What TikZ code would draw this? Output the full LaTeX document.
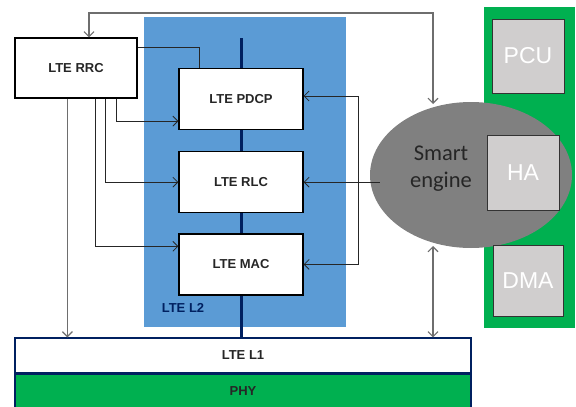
\documentclass[tikz,border=0pt]{standalone}
\usepackage{fontspec}
\setmainfont{Liberation Sans}
\newfontfamily\smartfont{Carlito}
\usepackage{xcolor}
\usetikzlibrary{shapes.geometric, arrows, arrows.meta, positioning, calc}
\definecolor{l2blue}{HTML}{5B9BD5}
\definecolor{phygreen}{HTML}{00B050}
\definecolor{navyline}{HTML}{002060}
\definecolor{smartgray}{HTML}{808080}
\definecolor{hwgray}{HTML}{D0CECE}
\definecolor{loopgray}{HTML}{6E6E6E}
\tikzstyle{layer} = [rectangle, minimum width=124pt, minimum height=61pt, draw=black, line width=1.2pt, fill=white, text=black!85, font=\fontsize{13}{15}\selectfont\bfseries]
\tikzstyle{hw} = [rectangle, minimum width=72pt, minimum height=74pt, draw=black!80, line width=0.8pt, fill=hwgray, text=white, font=\fontsize{23}{26}\selectfont]
\tikzstyle{bar} = [rectangle, minimum width=456pt, draw=navyline, line width=1.2pt, text=black!85, font=\fontsize{13}{15}\selectfont\bfseries]
\tikzstyle{arrow} = [line width=0.8pt, ->, >={Straight Barb[length=5pt,width=10pt]}]
\tikzstyle{ctrl} = [arrow, draw=black!85]
\tikzstyle{feed} = [arrow, draw=loopgray, line width=1.1pt]

\begin{document}
\begin{tikzpicture}[x=1pt, y=-1pt]
\useasboundingbox (0,0) rectangle (576,407);

% LTE L2 area
\fill[l2blue] (144,17) rectangle (346,327);
\node[text=navyline, font=\fontsize{13}{15}\selectfont\bfseries] (l2label) at (183,308) {LTE L2};

% Hardware panel
\fill[phygreen] (484,7) rectangle (575,328);

% L1 and PHY
\node[bar, fill=white, minimum height=35pt] (l1) at (243,355.5) {LTE L1};
\node[bar, fill=phygreen, minimum height=34pt, below=0pt of l1] (phy) {PHY};

% L2 backbone
\coordinate (bustop) at (241,38);
\draw[navyline, line width=3pt] (bustop) -- (bustop |- l1.north);

% RRC
\node[layer, minimum width=122pt, minimum height=60pt] (rrc) at (76,68) {LTE RRC};

% L2 sublayers
\node[layer] (pdcp) at (241,99) {LTE PDCP};
\node[layer, below=21pt of pdcp] (rlc) {LTE RLC};
\node[layer, below=20pt of rlc] (mac) {LTE MAC};

% Smart engine
\node[ellipse, fill=smartgray, minimum width=202pt, minimum height=146pt] (smart) at (471,175) {};
\node[font=\smartfont\fontsize{22.5}{27}\selectfont, text=black!85, align=center] (smarttext) at (441,169) {Smart\\engine};

% Accelerators
\node[hw] (pcu) at (528,56) {PCU};
\node[hw, minimum height=75pt] (ha) at (523,173) {HA};
\node[hw, minimum width=70pt, minimum height=71pt] (dma) at (528,281) {DMA};

% Connections
\coordinate (loopL) at (89,13);
\coordinate (loopR) at (433,13);
\coordinate (smarttop) at (433,104);
\draw[feed, <->] (rrc.north -| loopL) -- (loopL) -- (loopR) -- (smarttop);
\draw[ctrl, -] ($(rrc.north east)+(0,10)$) -| ($(pdcp.north west)+(21,0)$);
\draw[ctrl] ($(rrc.south west)+(102,0)$) |- ($(pdcp.south west)+(0,-9)$);
\draw[ctrl] ($(rrc.south west)+(91,0)$) |- (rlc.west);
\draw[ctrl] ($(rrc.south west)+(81,0)$) |- ($(mac.north west)+(0,13)$);
\coordinate (rrcdown) at ($(rrc.south west)+(53,0)$);
\draw[feed] (rrcdown) -- (rrcdown |- l1.north);
\draw[ctrl] ($(smart.west |- rlc.east)+(10,0)$) -- (rlc.east);
\coordinate (sidebus) at (358,0);
\draw[ctrl, <->] ($(pdcp.east)+(0,-3)$) -| (sidebus |- mac.east) -- (mac.east);
\coordinate (smartbot) at (433,246);
\draw[feed, <->] (smartbot) -- (smartbot |- l1.north);
\end{tikzpicture}
\end{document}
